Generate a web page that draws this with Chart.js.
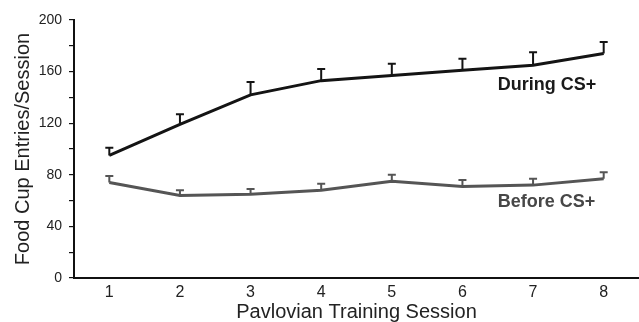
<!DOCTYPE html>
<html>
<head>
<meta charset="utf-8">
<script src="https://cdn.jsdelivr.net/npm/chart.js@4.4.1/dist/chart.umd.min.js"></script>
<style>
  html, body { margin: 0; padding: 0; background: #fff; }
  #wrap { width: 639px; height: 322px; }
</style>
</head>
<body>
<div id="wrap"><canvas id="chart" width="639" height="322"></canvas></div>
<script>
// sessions on the x axis
const sessions = ['1', '2', '3', '4', '5', '6', '7', '8'];

// mean food cup entries per session, and the upper error (SEM)
const duringMeans = [95, 119, 142, 153, 157, 161, 165, 174];
const duringErr = [6, 8, 10, 9, 9, 9, 10, 9];
const beforeMeans = [74, 64, 65, 68, 75, 71, 72, 77];
const beforeErr = [5, 4, 4, 5, 5, 5, 5, 5];

const yTicks = [0, 40, 80, 120, 160, 200];

const FONT = '"Liberation Sans", Arial, Helvetica, sans-serif';

// upper error bars with caps, drawn under the lines
const errorBars = {
  id: 'errorBars',
  beforeDatasetsDraw(chart) {
    const ctx = chart.ctx;
    const yScale = chart.scales.y;
    chart.data.datasets.forEach((ds, i) => {
      const meta = chart.getDatasetMeta(i);
      ctx.save();
      ctx.strokeStyle = ds.borderColor;
      ctx.lineWidth = 2;
      meta.data.forEach((pt, j) => {
        const top = yScale.getPixelForValue(ds.data[j] + ds.errUp[j]);
        ctx.beginPath();
        ctx.moveTo(pt.x, pt.y);
        ctx.lineTo(pt.x, top);
        ctx.moveTo(pt.x - 4, top);
        ctx.lineTo(pt.x + 4, top);
        ctx.stroke();
      });
      ctx.restore();
    });
  }
};

// series names written next to the lines
const seriesLabels = {
  id: 'seriesLabels',
  afterDatasetsDraw(chart) {
    const ctx = chart.ctx;
    const x = chart.scales.x.getPixelForValue(5.5);
    ctx.save();
    ctx.font = 'bold 18px ' + FONT;
    ctx.textAlign = 'left';
    ctx.textBaseline = 'alphabetic';
    chart.data.datasets.forEach(ds => {
      ctx.fillStyle = ds.textColor;
      ctx.fillText(ds.label, x, chart.scales.y.getPixelForValue(ds.labelAt));
    });
    ctx.restore();
  }
};

const chart = new Chart(document.getElementById('chart'), {
  type: 'line',
  data: {
    labels: sessions,
    datasets: [
      {
        label: 'During CS+',
        data: duringMeans,
        errUp: duringErr,
        labelAt: 146,
        textColor: '#1a1a1a',
        borderColor: '#141414',
        borderWidth: 3,
        pointRadius: 0,
        tension: 0
      },
      {
        label: 'Before CS+',
        data: beforeMeans,
        errUp: beforeErr,
        labelAt: 55,
        textColor: '#474747',
        borderColor: '#555555',
        borderWidth: 3,
        pointRadius: 0,
        tension: 0
      }
    ]
  },
  options: {
    responsive: false,
    animation: false,
    layout: { padding: { top: 20, right: 0, bottom: 0, left: 0 } },
    plugins: {
      legend: { display: false },
      tooltip: { enabled: false }
    },
    scales: {
      x: {
        type: 'category',
        offset: true,
        grid: { display: false, drawTicks: false, tickLength: 0 },
        border: { display: true, color: '#111', width: 2 },
        ticks: {
          color: '#222',
          font: { family: FONT, size: 16 },
          padding: 5,
          maxRotation: 0
        },
        title: {
          display: true,
          text: 'Pavlovian Training Session',
          color: '#222',
          font: { family: FONT, size: 20 },
          padding: { top: 0, bottom: -2.5 }
        },
        afterFit(scale) { scale.height = 44; }
      },
      y: {
        min: 0,
        max: 200,
        grid: {
          display: true,
          drawOnChartArea: false,
          drawTicks: true,
          tickLength: 5,
          color: '#111',
          lineWidth: 1.2
        },
        border: { display: true, color: '#111', width: 2 },
        ticks: {
          stepSize: 20,
          color: '#222',
          font: { family: FONT, size: 14 },
          padding: 7,
          callback: v => yTicks.includes(v) ? String(v) : ''
        },
        title: {
          display: true,
          text: 'Food Cup Entries/Session',
          color: '#222',
          font: { family: FONT, size: 20 },
          padding: { top: 11, bottom: 0 }
        },
        afterFit(scale) { scale.width = 74; }
      }
    }
  },
  plugins: [errorBars, seriesLabels]
});
</script>
</body>
</html>
